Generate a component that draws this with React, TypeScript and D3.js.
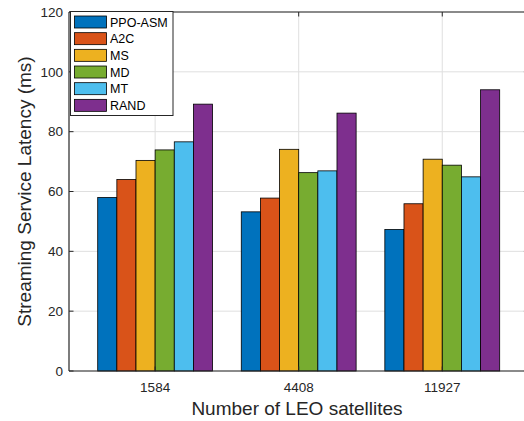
import React from "react";
import * as d3 from "d3";

const categories = ["1584", "4408", "11927"];
const seriesNames = ["PPO-ASM", "A2C", "MS", "MD", "MT", "RAND"];
const seriesColors = ["#0072BD", "#D95319", "#EDB120", "#77AC30", "#4DBEEE", "#7E2F8E"];
const ppoAsm = [58.0, 53.2, 47.3];
const a2c = [64.0, 57.8, 55.9];
const ms = [70.4, 74.1, 70.8];
const md = [73.9, 66.3, 68.8];
const mt = [76.6, 66.9, 64.9];
const rand = [89.2, 86.2, 94.0];
const yTicks = [0, 20, 40, 60, 80, 100, 120];

const W = 524;
const H = 421;
const left = 69;
const top = 12;
const bottom = 371;
const right = 528.4;
const font = "'Liberation Sans', Arial, Helvetica, sans-serif";
const axisColor = "#262626";

const App = () => {
  const seriesValues = [ppoAsm, a2c, ms, md, mt, rand];

  const xLin = d3.scaleLinear().domain([0.4, 3.6]).range([left, right]);
  const y = d3.scaleLinear().domain([0, 120]).range([bottom, top]);
  const x0 = d3.scalePoint<string>().domain(categories).range([xLin(1), xLin(3)]);
  const unit = xLin(1) - xLin(0);
  const groupW = 0.8 * unit;
  const x1 = d3.scaleBand<string>().domain(seriesNames).range([-groupW / 2, groupW / 2]);

  const legendX = 70.5;
  const legendY = 11.5;
  const rowH = 16.67;

  return (
    <svg width={W} height={H} style={{ position: "fixed", left: 0, top: 0, background: "#fff" }}>
      <rect x={0} y={0} width={W} height={H} fill="#fff" />
      {/* grid */}
      {yTicks.map((t) => (
        <line key={"gy" + t} x1={left} x2={right} y1={y(t)} y2={y(t)} stroke="#dfdfdf" strokeWidth={1} />
      ))}
      {categories.map((c) => (
        <line key={"gx" + c} x1={x0(c)} x2={x0(c)} y1={top} y2={bottom} stroke="#dfdfdf" strokeWidth={1} />
      ))}
      {/* bars */}
      {seriesNames.map((s, i) => (
        <g key={s}>
          {categories.map((c, j) => (
            <rect
              key={c}
              x={(x0(c) as number) + (x1(s) as number)}
              y={y(seriesValues[i][j])}
              width={x1.bandwidth()}
              height={y(0) - y(seriesValues[i][j])}
              fill={seriesColors[i]}
              stroke="#000"
              strokeWidth={0.8}
            />
          ))}
        </g>
      ))}
      {/* axes box */}
      <line x1={left} x2={right} y1={bottom} y2={bottom} stroke={axisColor} strokeWidth={1.2} />
      <line x1={left} x2={right} y1={top} y2={top} stroke={axisColor} strokeWidth={1.2} />
      <line x1={left} x2={left} y1={top} y2={bottom} stroke={axisColor} strokeWidth={1.2} />
      {yTicks.map((t) => (
        <g key={"ty" + t}>
          <line x1={left} x2={left + 4.5} y1={y(t)} y2={y(t)} stroke={axisColor} strokeWidth={1} />
          <line x1={right - 4.5} x2={right} y1={y(t)} y2={y(t)} stroke={axisColor} strokeWidth={1} />
          <text
            x={63}
            y={y(t)}
            dy="0.35em"
            textAnchor="end"
            fontFamily={font}
            fontSize={13.5}
            fill={axisColor}
          >
            {t}
          </text>
        </g>
      ))}
      {categories.map((c) => (
        <g key={"tx" + c}>
          <line x1={x0(c)} x2={x0(c)} y1={top} y2={top + 4.5} stroke={axisColor} strokeWidth={1} />
          <line x1={x0(c)} x2={x0(c)} y1={bottom} y2={bottom - 4.5} stroke={axisColor} strokeWidth={1} />
          <text x={x0(c)} y={392} textAnchor="middle" fontFamily={font} fontSize={13.5} fill={axisColor}>
            {c}
          </text>
        </g>
      ))}
      {/* axis labels */}
      <text x={297} y={415} textAnchor="middle" fontFamily={font} fontSize={19} fill={axisColor}>
        Number of LEO satellites
      </text>
      <text
        transform={`translate(31, ${(top + bottom) / 2}) rotate(-90)`}
        textAnchor="middle"
        fontFamily={font}
        fontSize={19}
        fill={axisColor}
      >
        Streaming Service Latency (ms)
      </text>
      {/* legend */}
      <rect x={legendX} y={legendY} width={102.5} height={104} fill="#fff" stroke={axisColor} strokeWidth={1} />
      {seriesNames.map((s, i) => (
        <g key={"lg" + s}>
          <rect
            x={74.5}
            y={16 + i * rowH}
            width={32}
            height={12}
            fill={seriesColors[i]}
            stroke="#000"
            strokeWidth={0.8}
          />
          <text x={110} y={22 + i * rowH} dy="0.36em" fontFamily={font} fontSize={12.5} fill="#000">
            {s}
          </text>
        </g>
      ))}
    </svg>
  );
};

export default App;
